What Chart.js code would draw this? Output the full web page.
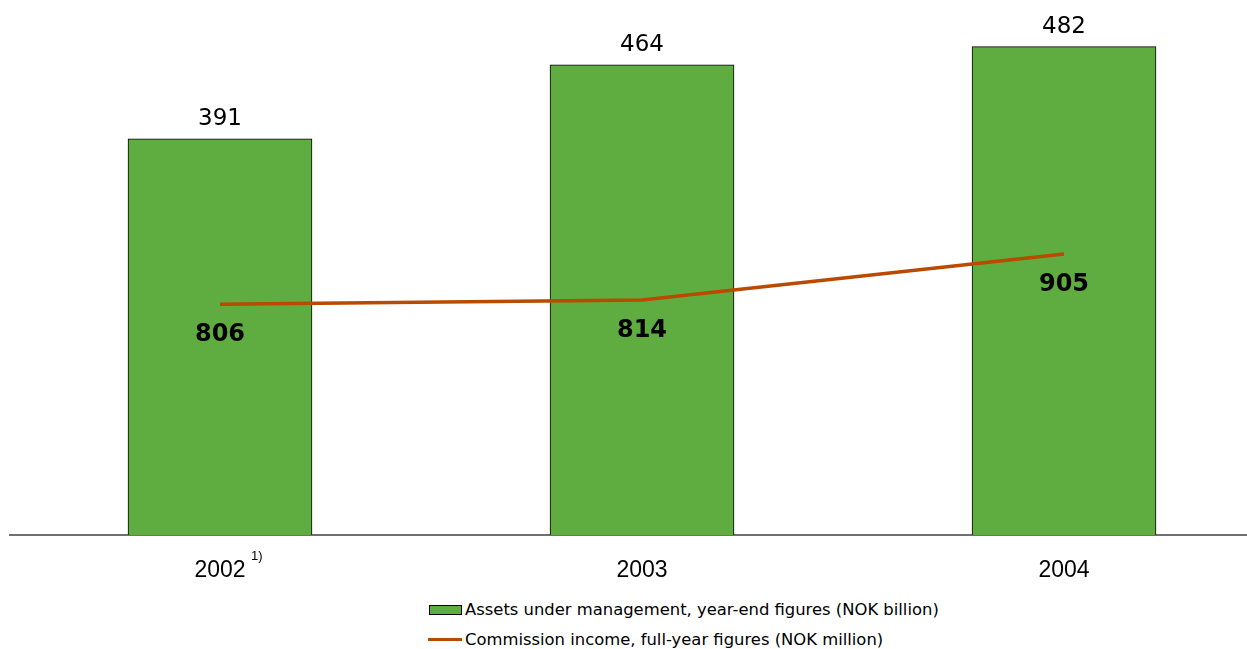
<!DOCTYPE html>
<html>
<head>
<meta charset="utf-8">
<script src="https://cdn.jsdelivr.net/npm/chart.js@4"></script>
<style>
    html, body { margin: 0; padding: 0; background: #fff; }
    #wrap { position: relative; width: 1247px; height: 649px; }
    #chart-box { position: absolute; left: 0; top: 0; width: 1247px; height: 590px; }
    .legend-item { position: absolute; left: 429px; font-family: "DejaVu Sans", Verdana, sans-serif; font-size: 16.4px; line-height: 19px; color: #000; white-space: nowrap; }
    .legend-item .sw { position: absolute; left: 0; }
    .legend-item span.txt { position: absolute; left: 36px; top: 0; }
    #leg-bar { top: 600px; }
    #leg-bar .sw { top: 5px; width: 31px; height: 8px; background: #5fad41; border: 1px solid #000; }
    #leg-line { top: 630px; }
    #leg-line .sw { top: 8px; width: 34px; height: 3px; background: #b94a00; left: -1px; }
</style>
</head>
<body>
<div id="wrap">
    <div id="chart-box"><canvas id="chart"></canvas></div>
    <div class="legend-item" id="leg-bar"><div class="sw"></div><span class="txt"></span></div>
    <div class="legend-item" id="leg-line"><div class="sw"></div><span class="txt"></span></div>
</div>
<script>
(function () {
    "use strict";

    const years = ["2002", "2003", "2004"];
    const footnotes = ["1)", "", ""];
    const assets = [391, 464, 482];
    const commission = [806, 814, 905];
    const seriesNames = ["Assets under management, year-end figures (NOK billion)", "Commission income, full-year figures (NOK million)"];

    const GREEN = "#5fad41";
    const RUST = "#b94a00";

    document.querySelector("#leg-bar .txt").textContent = seriesNames[0];
    document.querySelector("#leg-line .txt").textContent = seriesNames[1];

    const labelsPlugin = {
        id: "valueLabels",
        afterDatasetsDraw(chart) {
            const ctx = chart.ctx;
            ctx.save();
            ctx.fillStyle = "#000";
            ctx.textAlign = "center";
            ctx.textBaseline = "alphabetic";
            // dataset 1 = bars, dataset 0 = line
            ctx.font = "23px 'DejaVu Sans', Verdana, sans-serif";
            chart.getDatasetMeta(1).data.forEach((bar, i) => {
                ctx.fillText(String(assets[i]), bar.x, bar.y - 14);
            });
            ctx.font = "bold 24px 'DejaVu Sans', Verdana, sans-serif";
            chart.getDatasetMeta(0).data.forEach((pt, i) => {
                ctx.fillText(String(commission[i]), pt.x, pt.y + 37);
            });
            // footnote marks next to the year labels
            const xs = chart.scales.x;
            ctx.font = "13px 'Liberation Sans', Arial, sans-serif";
            ctx.textAlign = "left";
            ctx.textBaseline = "middle";
            footnotes.forEach((f, i) => {
                if (f) ctx.fillText(f, xs.getPixelForValue(i) + 31, 556);
            });
            ctx.restore();
        },
    };

    new Chart(document.getElementById("chart"), {
        data: {
            datasets: [
                {
                    type: "line",
                    label: seriesNames[1],
                    data: commission.map((v, i) => ({ x: i, y: v })),
                    yAxisID: "y1",
                    borderColor: RUST,
                    borderWidth: 3.5,
                    pointRadius: 0,
                    tension: 0,
                    order: 0,
                },
                {
                    type: "bar",
                    label: seriesNames[0],
                    data: assets.map((v, i) => ({ x: i, y: v })),
                    yAxisID: "y",
                    backgroundColor: GREEN,
                    borderColor: "#000",
                    borderWidth: 1,
                    barThickness: 184,
                    order: 1,
                },
            ],
        },
        options: {
            responsive: true,
            maintainAspectRatio: false,
            animation: false,
            layout: { padding: { left: 10, right: 0, top: 0, bottom: 0 } },
            plugins: { legend: { display: false }, tooltip: { enabled: false } },
            scales: {
                x: {
                    type: "linear",
                    offset: false,
                    min: -0.4976,
                    max: 2.4336,
                    afterBuildTicks(scale) { scale.ticks = years.map((_, i) => ({ value: i })); },
                    afterFit(scale) { scale.height = 55; },
                    grid: { display: false, drawTicks: false, offset: false },
                    border: { display: true, color: "#707070", width: 2 },
                    ticks: {
                        autoSkip: false,
                        maxRotation: 0,
                        padding: 22,
                        color: "#000",
                        font: { family: "'Liberation Sans', Arial, sans-serif", size: 23 },
                        callback: (v) => years[v],
                    },
                },
                y: { display: false, min: 0, max: 528 },
                y1: { display: false, min: 349, max: 1408 },
            },
        },
        plugins: [labelsPlugin],
    });
})();
</script>
</body>
</html>
